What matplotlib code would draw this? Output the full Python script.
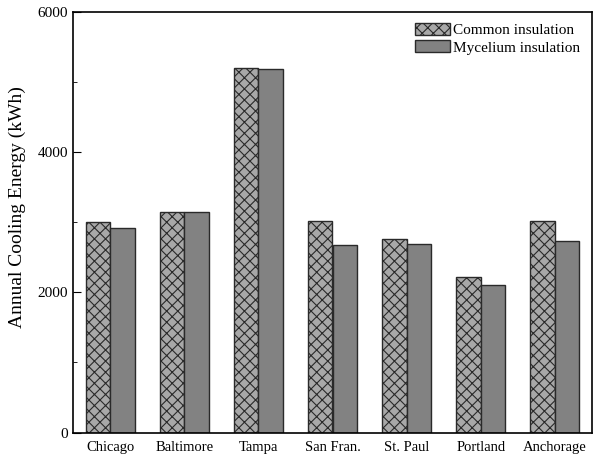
import numpy as np
import matplotlib.pyplot as plt
from matplotlib.ticker import MultipleLocator

cities = ["Chicago", "Baltimore", "Tampa", "San Fran.", "St. Paul", "Portland", "Anchorage"]
common = [3000, 3140, 5195, 3015, 2765, 2218, 3015]
mycelium = [2910, 3148, 5180, 2680, 2688, 2100, 2726]

plt.rcParams['font.family'] = ['Liberation Serif', 'DejaVu Serif']
plt.rcParams['hatch.color'] = '#3a3a3a'
plt.rcParams['hatch.linewidth'] = 0.8

fig = plt.figure(figsize=(6, 4.59), dpi=100)
ax = fig.add_axes([73/600, 1-432.5/459, (592-73)/600, (432.5-11.7)/459])

x = np.arange(len(cities))
w = 0.33
ax.bar(x - w/2, common, w, color='#a8a8a8', edgecolor='#2a2a2a', lw=1,
       hatch='xxx', label="Common insulation")
ax.bar(x + w/2, mycelium, w, color='#828282', edgecolor='#2a2a2a', lw=1,
       label="Mycelium insulation")

ax.set_xlim(-0.5, 6.5)
ax.set_ylim(0, 6000)
ax.set_xticks(x)
ax.set_xticklabels(cities, fontsize=10.5)
ax.tick_params(axis='x', length=0, pad=6)
ax.yaxis.set_major_locator(MultipleLocator(2000))
ax.yaxis.set_minor_locator(MultipleLocator(1000))
ax.tick_params(axis='y', which='major', direction='in', length=6, labelsize=11)
ax.tick_params(axis='y', which='minor', direction='in', length=3)
ax.set_ylabel('Annual Cooling Energy (kWh)', fontsize=14)
ax.yaxis.set_label_coords(-0.09, 0.535)
for s in ax.spines.values():
    s.set_linewidth(1.2)

ax.legend(loc='upper right', frameon=False, fontsize=11, handlelength=2.3,
          handleheight=0.8, labelspacing=0.2, handletextpad=0.2,
          borderaxespad=0.35)

fig.savefig("out.png", dpi=100)
